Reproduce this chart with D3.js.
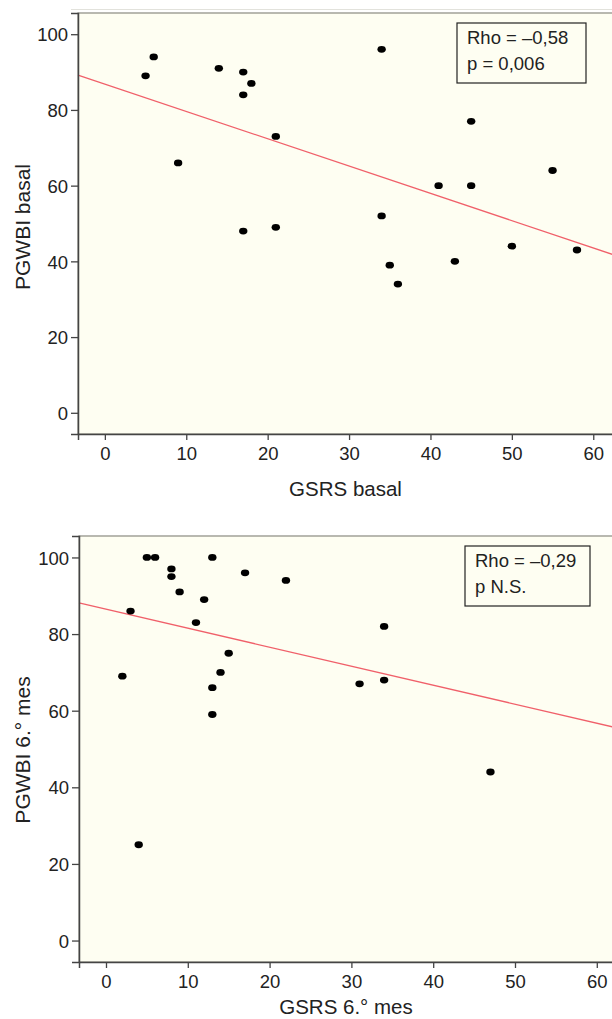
<!DOCTYPE html>
<html lang="es">
<head>
<meta charset="UTF-8">
<title>PGWBI vs GSRS</title>
<script src="https://d3js.org/d3.v7.min.js"></script>
<style>
  body { margin: 0; background: #fff; }
  svg { display: block; overflow: hidden; }
  text { font-family: "Liberation Sans", Arial, Helvetica, sans-serif; fill: #222; }
</style>
</head>
<body>
<script>
// --- data ---
var xTicks = [0, 10, 20, 30, 40, 50, 60];
var yTicks = [0, 20, 40, 60, 80, 100];

// top panel: basal
var gsrsBasal  = [5, 6, 14, 17, 18, 17, 21, 9, 17, 21, 34, 45, 55, 41, 45, 34, 35, 36, 43, 50, 58];
var pgwbiBasal = [89, 94, 91, 90, 87, 84, 73, 66, 48, 49, 96, 77, 64, 60, 60, 52, 39, 34, 40, 44, 43];
var fitBasal = [86.8, -0.721];   // intercept, slope
var legendBasal = ["Rho = \u20130,58", "p = 0,006"];

// bottom panel: 6th month
var gsrs6  = [5, 6, 13, 8, 8, 9, 17, 22, 3, 12, 11, 15, 14, 13, 13, 2, 34, 34, 31, 47, 4];
var pgwbi6 = [100, 100, 100, 97, 95, 91, 96, 94, 86, 89, 83, 75, 70, 66, 59, 69, 82, 68, 67, 44, 25];
var fit6 = [86.5, -0.496];
var legend6 = ["Rho = \u20130,29", "p N.S."];

var width = 612, height = 1019;
var svg = d3.select("body").append("svg")
    .attr("width", width)
    .attr("height", height);

function drawPanel(p) {
    var xMax = 64;
    var x = d3.scaleLinear().domain([-3.3, xMax]).range([p.left, p.left + (xMax + 3.3) * p.xUnit]);
    var y = d3.scaleLinear().domain([-5.6, 105.6]).range([p.bottom, p.top]);
    var right = x(xMax);

    var g = svg.append("g");

    // cream plot background + frame
    g.append("rect")
        .attr("x", p.left).attr("y", p.top)
        .attr("width", right - p.left).attr("height", p.bottom - p.top)
        .attr("fill", "#fefef2")
        .attr("stroke", "#8a8a80")
        .attr("stroke-width", 1.2);

    // regression line
    var fitLine = d3.line()
        .x(function (d) { return x(d); })
        .y(function (d) { return y(p.fit[0] + p.fit[1] * d); });
    g.append("path")
        .datum([-3.3, xMax])
        .attr("d", fitLine)
        .attr("fill", "none")
        .attr("stroke", "#f0606a")
        .attr("stroke-width", 1.3);

    // points
    g.append("g").selectAll("ellipse")
        .data(p.xs)
        .enter()
        .append("ellipse")
        .attr("cx", function (d) { return x(d); })
        .attr("cy", function (d, i) { return y(p.ys[i]); })
        .attr("rx", 4.2)
        .attr("ry", 3.4)
        .attr("fill", "#000");

    // axes
    var xAxis = g.append("g")
        .attr("transform", "translate(0," + p.bottom + ")")
        .call(d3.axisBottom(x).tickValues(xTicks).tickSize(6).tickPadding(4));
    var yAxis = g.append("g")
        .attr("transform", "translate(" + p.left + ",0)")
        .call(d3.axisLeft(y).tickValues(yTicks).tickSize(7).tickPadding(3));

    [xAxis, yAxis].forEach(function (a) {
        a.select(".domain").attr("stroke", "#444").attr("stroke-width", 1.5);
        a.selectAll(".tick line").attr("stroke", "#444").attr("stroke-width", 1.3);
        a.selectAll(".tick text")
            .style("font-family", "'Liberation Sans', Arial, sans-serif")
            .style("font-size", "18.5px")
            .attr("fill", "#222");
    });
    xAxis.selectAll(".tick text").attr("dy", "0.88em");
    yAxis.selectAll(".tick text").attr("dy", "0.36em");

    // axis titles
    g.append("text")
        .attr("x", (p.left + 613) / 2).attr("y", p.xTitleY)
        .attr("text-anchor", "middle")
        .style("font-size", "20.5px")
        .text(p.xTitle);
    g.append("text")
        .attr("transform", "translate(30," + p.yTitleMid + ") rotate(-90)")
        .attr("text-anchor", "middle")
        .style("font-size", "21px")
        .text(p.yTitle);

    // stats box
    var box = g.append("g").attr("transform", "translate(" + p.box[0] + "," + p.box[1] + ")");
    box.append("rect")
        .attr("width", p.box[2]).attr("height", p.box[3])
        .attr("fill", "#fefef2")
        .attr("stroke", "#222")
        .attr("stroke-width", 1.2);
    box.selectAll("text")
        .data(p.legend)
        .enter()
        .append("text")
        .attr("x", 10)
        .attr("y", function (d, i) { return 20.5 + i * 26.5; })
        .style("font-size", "18.5px")
        .text(function (d) { return d; });
}

// faint outer edge above the first panel
svg.append("line")
    .attr("x1", 71).attr("x2", width)
    .attr("y1", 9.5).attr("y2", 9.5)
    .attr("stroke", "#e2e2dc");

drawPanel({
    xs: gsrsBasal, ys: pgwbiBasal, fit: fitBasal, legend: legendBasal,
    left: 78, top: 13, bottom: 434, xUnit: 8.14,
    xTitle: "GSRS basal", yTitle: "PGWBI basal", xTitleY: 496, yTitleMid: 227,
    box: [457, 23, 129, 60]
});

drawPanel({
    xs: gsrs6, ys: pgwbi6, fit: fit6, legend: legend6,
    left: 79, top: 536, bottom: 962, xUnit: 8.18,
    xTitle: "GSRS 6.\u00b0 mes", yTitle: "PGWBI 6.\u00b0 mes", xTitleY: 1014, yTitleMid: 750,
    box: [465, 546, 125, 60]
});
</script>
</body>
</html>
